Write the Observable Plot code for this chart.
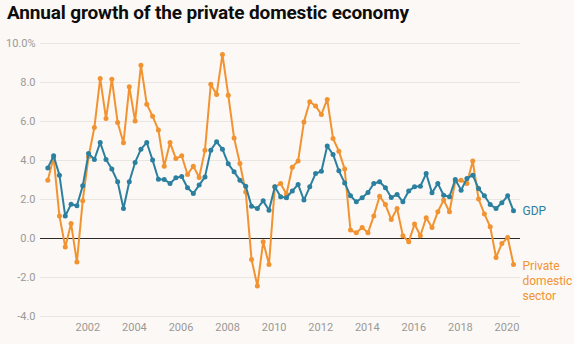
<!DOCTYPE html>
<html>
<head>
<meta charset="utf-8">
<script src="https://cdn.jsdelivr.net/npm/d3@7"></script>
<script src="https://cdn.jsdelivr.net/npm/@observablehq/plot@0.6"></script>
<style>
  html, body { margin: 0; padding: 0; background: #fcf8f5; }
  #wrap { position: relative; width: 574px; height: 344px; overflow: hidden; background: #fcf8f5; }
  #title { position: absolute; left: 7px; top: 2px; font-family: Roboto, sans-serif; font-weight: 700; font-size: 19px; line-height: 22px; color: #0d0d0d; white-space: nowrap; letter-spacing: -0.15px; }
  #chart { position: absolute; left: 0; top: 0; }
</style>
</head>
<body>
<div id="wrap">
  <div id="title">Annual growth of the private domestic economy</div>
  <div id="chart"></div>
</div>
<script>
// Quarterly series, first quarter = 2000 Q1 (quarter-end dating)
const startYear = 2000.28;

const gdp = [
  3.62, 4.24, 3.25, 1.15, 1.76, 1.68, 2.70, 4.36, 4.05, 4.92,
  4.05, 3.56, 2.91, 1.54, 2.91, 3.90, 4.58, 4.92, 4.02, 3.04,
  3.03, 2.82, 3.11, 3.18, 2.60, 2.31, 2.74, 3.16, 4.53, 4.96,
  4.58, 3.83, 3.42, 2.99, 2.68, 1.66, 1.54, 1.93, 1.45, 2.65,
  2.14, 2.09, 2.44, 2.77, 1.97, 2.65, 3.33, 3.45, 4.74, 4.31,
  3.47, 2.85, 2.19, 1.88, 2.09, 2.36, 2.82, 2.91, 2.60, 2.10,
  2.26, 1.88, 2.44, 2.65, 2.68, 3.33, 2.34, 2.82, 2.22, 2.14,
  3.03, 2.48, 3.08, 3.25, 2.56, 2.19, 1.74, 1.54, 1.83, 2.19,
  1.42
];

const privateDomestic = [
  2.99, 4.15, 1.15, -0.43, 0.77, -1.21, 1.94, 4.19, 5.69, 8.21,
  6.15, 8.17, 5.95, 4.91, 7.78, 6.02, 8.89, 6.89, 6.27, 5.56,
  3.71, 4.92, 4.10, 4.24, 3.28, 3.71, 3.13, 4.53, 7.91, 7.38,
  9.44, 7.35, 5.16, 3.85, 2.39, -1.08, -2.43, -0.17, -1.33, 2.65,
  2.82, 2.27, 3.66, 3.98, 5.98, 7.01, 6.80, 6.36, 7.13, 5.13,
  4.48, 3.56, 0.43, 0.29, 0.56, 0.29, 1.16, 2.17, 1.74, 0.97,
  1.54, 0.14, -0.17, 0.74, 0.14, 1.06, 0.56, 1.37, 1.97, 1.37,
  2.94, 2.99, 2.82, 3.97, 2.02, 1.26, 0.60, -0.97, -0.26, 0.05,
  -1.33
];

const xTicks = [2002, 2004, 2006, 2008, 2010, 2012, 2014, 2016, 2018, 2020];
const yTicks = [-4, -2, 0, 2, 4, 6, 8, 10];
const seriesNames = ["GDP", "Private\ndomestic\nsector"];

const blue = "#2b7f9f";
const orange = "#f29331";

const rows = gdp.map((g, i) => ({ t: startYear + i * 0.25, gdp: g, priv: privateDomestic[i] }));
const last = rows[rows.length - 1];

const chart = Plot.plot({
  width: 574,
  height: 344,
  marginTop: 43,
  marginBottom: 28,
  marginLeft: 40,
  marginRight: 54,
  style: { background: "transparent", fontFamily: "Roboto, sans-serif", fontSize: "11px", color: "#9b9895" },
  x: {
    domain: [rows[0].t, last.t],
    range: [47.3, 513],
    ticks: xTicks,
    tickFormat: d => String(d),
    tickSize: 0,
    tickPadding: 7,
    label: null
  },
  y: {
    domain: [-4, 10],
    ticks: yTicks,
    tickFormat: d => d === 10 ? "10.0%" : d.toFixed(1),
    tickSize: 0,
    tickPadding: 5,
    label: null
  },
  marks: [
    Plot.ruleY(yTicks.filter(d => d !== 0), { stroke: "#e9e5e1", strokeWidth: 1 }),
    Plot.ruleY([0], { stroke: "#2a2a2a", strokeWidth: 1.2 }),
    Plot.line(rows, { x: "t", y: "priv", stroke: orange, strokeWidth: 2 }),
    Plot.dot(rows, { x: "t", y: "priv", fill: orange, r: 2.5 }),
    Plot.line(rows, { x: "t", y: "gdp", stroke: blue, strokeWidth: 2 }),
    Plot.dot(rows, { x: "t", y: "gdp", fill: blue, r: 2.5 }),
    Plot.text([last], { x: "t", y: "gdp", text: () => seriesNames[0], dx: 9, textAnchor: "start", fill: blue, fontSize: 12 }),
    Plot.text([last], { x: "t", y: "priv", text: () => seriesNames[1], dx: 9, dy: -5, textAnchor: "start", lineAnchor: "top", lineHeight: 1.25, fill: orange, fontSize: 12 })
  ]
});

document.getElementById("chart").appendChild(chart);
</script>
</body>
</html>
